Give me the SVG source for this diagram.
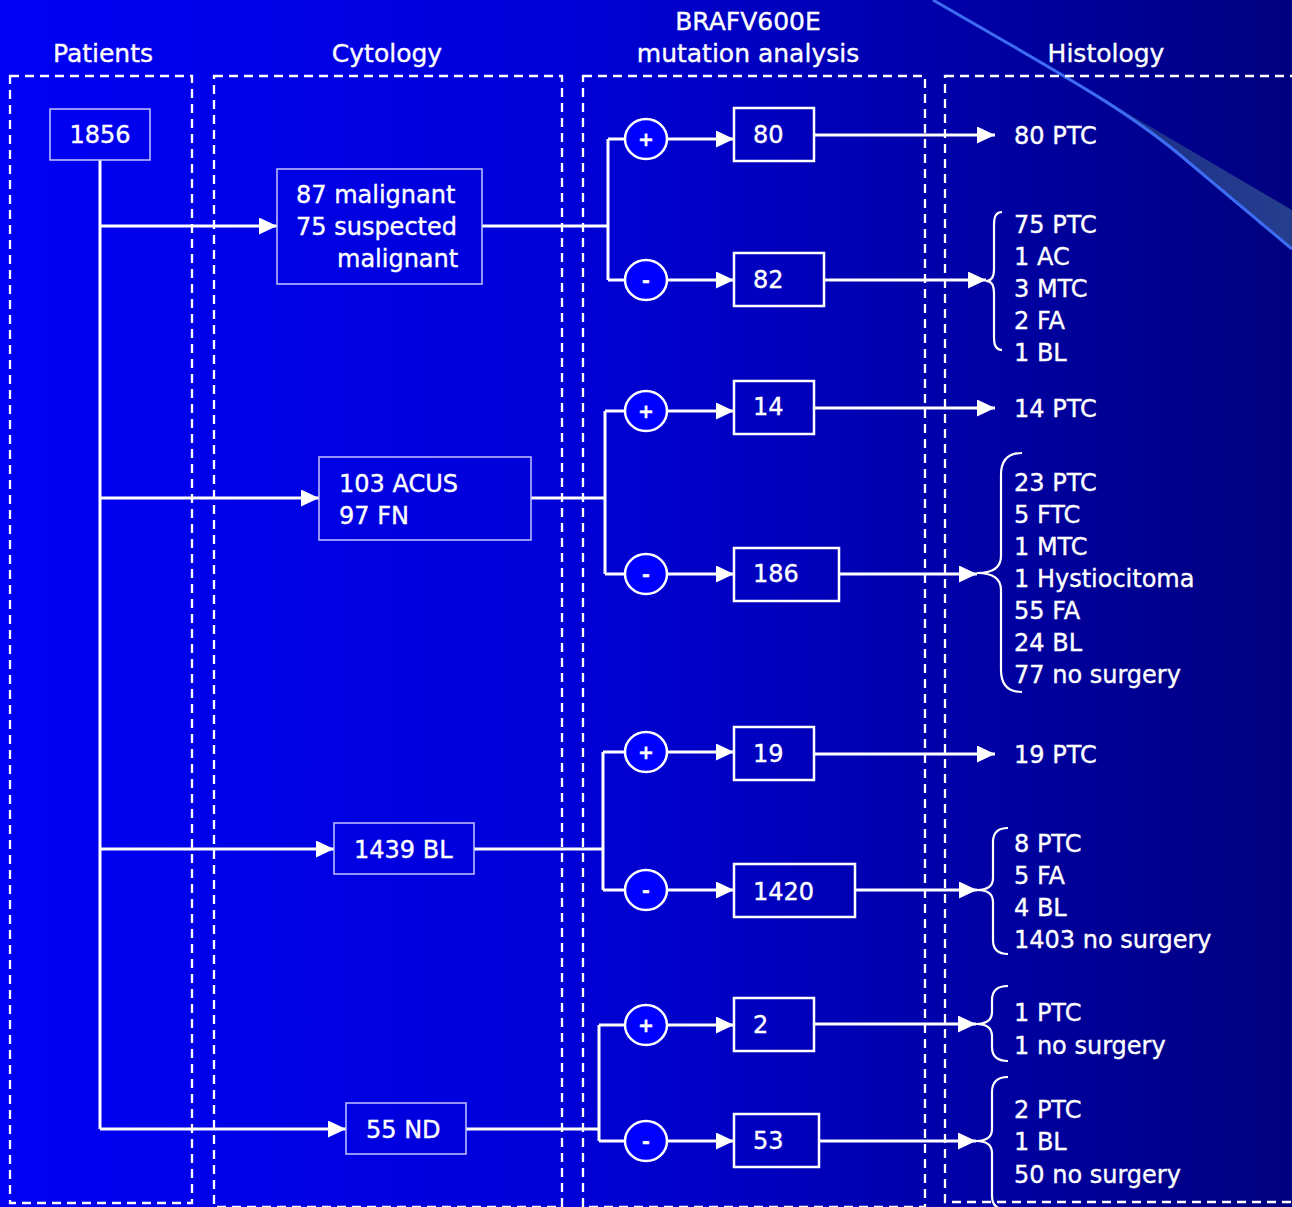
<svg xmlns="http://www.w3.org/2000/svg" width="1292" height="1207" viewBox="0 0 1292 1207">
<defs>
<linearGradient id="bg" x1="0" y1="0" x2="1" y2="0">
<stop offset="0" stop-color="#0000f4"/>
<stop offset="0.45" stop-color="#0000d6"/>
<stop offset="1" stop-color="#00007e"/>
</linearGradient>
<linearGradient id="wedge" x1="0" y1="0" x2="1" y2="0">
<stop offset="0" stop-color="#1a2f8a"/>
<stop offset="1" stop-color="#263e8e"/>
</linearGradient>
<marker id="ah" markerUnits="userSpaceOnUse" markerWidth="19" markerHeight="17" refX="18" refY="8.5" orient="auto">
<path d="M0,0 L18,8.5 L0,17 z" fill="#ffffff"/>
</marker>
<style>
text{font-family:"DejaVu Sans","Liberation Sans",sans-serif;fill:#ffffff;font-size:24px;stroke:#ffffff;stroke-width:0.35}
.title{font-size:25px}
.panel{fill:none;stroke:#ffffff;stroke-width:2.3;stroke-dasharray:9 6}
.cbox{fill:none;stroke:#c4c4ff;stroke-width:1.5}
.bbox{fill:none;stroke:#ffffff;stroke-width:2.5}
.sign{fill:#0000ff;stroke:#ffffff;stroke-width:2.5}
.signt{font-size:19px;font-weight:bold;text-anchor:middle}
.ln{fill:none;stroke:#ffffff;stroke-width:3}
.arr{fill:none;stroke:#ffffff;stroke-width:3;marker-end:url(#ah)}
.brace{fill:none;stroke:#ffffff;stroke-width:2.2}
</style>
</defs>
<rect x="0" y="0" width="1292" height="1207" fill="url(#bg)"/>
<g id="decoration">
<path d="M1115,106 L1292,210 L1292,249 L1180,155 C1160,138 1140,122 1115,106 z" fill="url(#wedge)"/>
<path d="M933,0 C1050,68 1120,105 1180,155 L1292,249" fill="none" stroke="#3d6cf2" stroke-width="3"/>
</g>
<g id="panels">
<rect class="panel" x="10" y="76" width="182" height="1127"/>
<rect class="panel" x="214" y="76" width="348" height="1131"/>
<rect class="panel" x="583" y="76" width="342" height="1131"/>
<rect class="panel" x="945" y="76" width="360" height="1126"/>
</g>
<g id="titles">
<text class="title" x="103" y="62" text-anchor="middle">Patients</text>
<text class="title" x="387" y="62" text-anchor="middle">Cytology</text>
<text class="title" x="748" y="30" text-anchor="middle">BRAFV600E</text>
<text class="title" x="748" y="62" text-anchor="middle">mutation analysis</text>
<text class="title" x="1106" y="62" text-anchor="middle">Histology</text>
</g>
<g id="connectors">
<path class="ln" d="M100,160 V1129"/>
<path class="arr" d="M100,226 H277"/>
<path class="arr" d="M100,498 H319"/>
<path class="arr" d="M100,849 H334"/>
<path class="arr" d="M100,1129 H346"/>
<path class="ln" d="M482,226 H608 M608,139 V280 M608,139 H625 M608,280 H625"/>
<path class="arr" d="M667,139 H734"/>
<path class="arr" d="M667,280 H734"/>
<path class="arr" d="M814,135 H995"/>
<path class="arr" d="M824,280 H986"/>
<path class="ln" d="M531,498 H605 M605,411 V574 M605,411 H625 M605,574 H625"/>
<path class="arr" d="M667,411 H734"/>
<path class="arr" d="M667,574 H734"/>
<path class="arr" d="M814,408 H995"/>
<path class="arr" d="M839,574 H977"/>
<path class="ln" d="M474,849 H603 M603,752 V890 M603,752 H625 M603,890 H625"/>
<path class="arr" d="M667,752 H734"/>
<path class="arr" d="M667,890 H734"/>
<path class="arr" d="M814,754 H995"/>
<path class="arr" d="M855,890 H977"/>
<path class="ln" d="M466,1129 H599 M599,1025 V1141 M599,1025 H625 M599,1141 H625"/>
<path class="arr" d="M667,1025 H734"/>
<path class="arr" d="M667,1141 H734"/>
<path class="arr" d="M814,1024 H976"/>
<path class="arr" d="M819,1141 H976"/>
</g>
<g id="braces">
<path class="brace" d="M1002,212 Q994,212 994,224 L994,269 Q994,281 986,281 Q994,281 994,293 L994,338 Q994,350 1002,350"/>
<path class="brace" d="M1022,453 Q1001,453 1001,475 L1001,556 Q1001,573 977,573 Q1001,573 1001,590 L1001,670 Q1001,692 1022,692"/>
<path class="brace" d="M1008,828 Q993,828 993,842 L993,878 Q993,890 977,890 Q993,890 993,902 L993,940 Q993,954 1008,954"/>
<path class="brace" d="M1008,986 Q992,986 992,1000 L992,1012 Q992,1024 976,1024 Q992,1024 992,1036 L992,1047 Q992,1061 1008,1061"/>
<path class="brace" d="M1008,1077 Q992,1077 992,1092 L992,1129 Q992,1141 976,1141 Q992,1141 992,1153 L992,1196 Q992,1210 1008,1210"/>
</g>
<g id="n1856"><rect class="cbox" x="50" y="109" width="100" height="51"/><text x="100" y="143" text-anchor="middle">1856</text></g>
<g id="cyt1"><rect class="cbox" x="277" y="169" width="205" height="115"/><text x="296" y="203">87 malignant</text><text x="296" y="235">75 suspected</text><text x="337" y="267">malignant</text></g>
<g id="cyt2"><rect class="cbox" x="319" y="457" width="212" height="83"/><text x="339" y="492">103 ACUS</text><text x="339" y="524">97 FN</text></g>
<g id="cyt3"><rect class="cbox" x="334" y="823" width="140" height="51"/><text x="354" y="858">1439 BL</text></g>
<g id="cyt4"><rect class="cbox" x="346" y="1103" width="120" height="51"/><text x="366" y="1138">55 ND</text></g>
<g id="s1p"><ellipse class="sign" cx="646" cy="139" rx="21" ry="20"/><text class="signt" x="646" y="146">+</text></g>
<g id="s1m"><ellipse class="sign" cx="646" cy="280" rx="21" ry="20"/><text class="signt" x="646" y="287">-</text></g>
<g id="s2p"><ellipse class="sign" cx="646" cy="411" rx="21" ry="20"/><text class="signt" x="646" y="418">+</text></g>
<g id="s2m"><ellipse class="sign" cx="646" cy="574" rx="21" ry="20"/><text class="signt" x="646" y="581">-</text></g>
<g id="s3p"><ellipse class="sign" cx="646" cy="752" rx="21" ry="20"/><text class="signt" x="646" y="759">+</text></g>
<g id="s3m"><ellipse class="sign" cx="646" cy="890" rx="21" ry="20"/><text class="signt" x="646" y="897">-</text></g>
<g id="s4p"><ellipse class="sign" cx="646" cy="1025" rx="21" ry="20"/><text class="signt" x="646" y="1032">+</text></g>
<g id="s4m"><ellipse class="sign" cx="646" cy="1141" rx="21" ry="20"/><text class="signt" x="646" y="1148">-</text></g>
<g id="b80"><rect class="bbox" x="734" y="108" width="80" height="53"/><text x="753" y="143">80</text></g>
<g id="b82"><rect class="bbox" x="734" y="253" width="90" height="53"/><text x="753" y="288">82</text></g>
<g id="b14"><rect class="bbox" x="734" y="381" width="80" height="53"/><text x="753" y="415">14</text></g>
<g id="b186"><rect class="bbox" x="734" y="548" width="105" height="53"/><text x="753" y="582">186</text></g>
<g id="b19"><rect class="bbox" x="734" y="727" width="80" height="53"/><text x="753" y="762">19</text></g>
<g id="b1420"><rect class="bbox" x="734" y="864" width="121" height="53"/><text x="753" y="900">1420</text></g>
<g id="b2"><rect class="bbox" x="734" y="998" width="80" height="53"/><text x="753" y="1033">2</text></g>
<g id="b53"><rect class="bbox" x="734" y="1114" width="85" height="53"/><text x="753" y="1149">53</text></g>
<g id="h1"><text x="1014" y="144">80 PTC</text></g>
<g id="h2"><text x="1014" y="233">75 PTC</text><text x="1014" y="265">1 AC</text><text x="1014" y="297">3 MTC</text><text x="1014" y="329">2 FA</text><text x="1014" y="361">1 BL</text></g>
<g id="h3"><text x="1014" y="417">14 PTC</text></g>
<g id="h4"><text x="1014" y="491">23 PTC</text><text x="1014" y="523">5 FTC</text><text x="1014" y="555">1 MTC</text><text x="1014" y="587">1 Hystiocitoma</text><text x="1014" y="619">55 FA</text><text x="1014" y="651">24 BL</text><text x="1014" y="683">77 no surgery</text></g>
<g id="h5"><text x="1014" y="763">19 PTC</text></g>
<g id="h6"><text x="1014" y="852">8 PTC</text><text x="1014" y="884">5 FA</text><text x="1014" y="916">4 BL</text><text x="1014" y="948">1403 no surgery</text></g>
<g id="h7"><text x="1014" y="1021">1 PTC</text><text x="1014" y="1054">1 no surgery</text></g>
<g id="h8"><text x="1014" y="1118">2 PTC</text><text x="1014" y="1150">1 BL</text><text x="1014" y="1183">50 no surgery</text></g>
</svg>
